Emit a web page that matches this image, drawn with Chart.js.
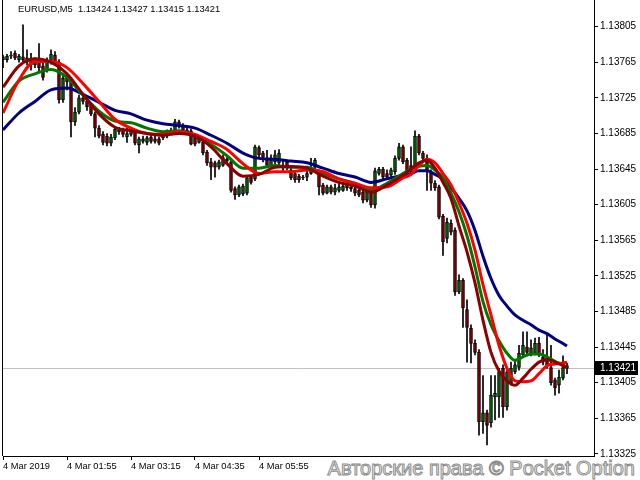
<!DOCTYPE html>
<html>
<head>
<meta charset="utf-8">
<script src="https://cdn.jsdelivr.net/npm/chart.js@4.4.1/dist/chart.umd.min.js"></script>
<style>
  html, body { margin: 0; padding: 0; background: #fff; }
  #wrap { position: relative; width: 640px; height: 480px; }
  #title { position: absolute; left: 18px; top: 4px; font: 9.3px "Liberation Sans", Arial, sans-serif; color: #000; white-space: pre; }
  #wm { position: absolute; left: 318px; top: 457px; width: 322px; height: 23px; background: #fff;
        font: 20px "Liberation Sans", Arial, sans-serif; color: #fff; -webkit-text-stroke: 1px #8c8c8c;
        line-height: 23px; white-space: pre; text-align: right; padding-right: 5px; box-sizing: border-box; }
</style>
</head>
<body>
<div id="wrap">
  <canvas id="chart" width="640" height="480"></canvas>
  <div id="title">EURUSD,M5  1.13424 1.13427 1.13415 1.13421</div>
  <div id="wm">Авторские права © Pocket Option</div>
</div>
<script>
// x axis labels (M5 bars, one label every 16 bars)
const timeLabels = ['4 Mar 2019', '4 Mar 01:55', '4 Mar 03:15', '4 Mar 04:35', '4 Mar 05:55'];
const timeTickBars = [0, 16, 32, 48, 64];
const priceTicks = [1.13805, 1.13765, 1.13725, 1.13685, 1.13645, 1.13605, 1.13565,
                    1.13525, 1.13485, 1.13445, 1.13405, 1.13365, 1.13325];
const lastPrice = 1.13421;

// candles
const opens = [
  1.13768, 1.13768, 1.13772, 1.13775, 1.13768, 1.13771, 1.13765, 1.13768, 1.13762, 1.13764,
  1.13761, 1.13756, 1.13765, 1.13773, 1.13765, 1.13723, 1.13747, 1.13745, 1.13698, 1.13709,
  1.13725, 1.13721, 1.13718, 1.13707, 1.13691, 1.13684, 1.13682, 1.13674, 1.13680, 1.13687,
  1.13689, 1.13681, 1.13684, 1.13687, 1.13672, 1.13676, 1.13675, 1.13681, 1.13679, 1.13679,
  1.13680, 1.13682, 1.13685, 1.13688, 1.13698, 1.13693, 1.13685, 1.13688, 1.13682, 1.13675,
  1.13675, 1.13664, 1.13653, 1.13652, 1.13647, 1.13649, 1.13656, 1.13653, 1.13623, 1.13616,
  1.13617, 1.13618, 1.13636, 1.13634, 1.13669, 1.13663, 1.13655, 1.13649, 1.13653, 1.13652,
  1.13649, 1.13653, 1.13644, 1.13640, 1.13637, 1.13636, 1.13636, 1.13640, 1.13647, 1.13640,
  1.13627, 1.13618, 1.13625, 1.13619, 1.13621, 1.13621, 1.13627, 1.13625, 1.13623, 1.13621,
  1.13619, 1.13610, 1.13618, 1.13605, 1.13640, 1.13645, 1.13640, 1.13638, 1.13642, 1.13657,
  1.13670, 1.13655, 1.13649, 1.13647, 1.13682, 1.13663, 1.13657, 1.13642, 1.13629, 1.13625,
  1.13592, 1.13567, 1.13584, 1.13576, 1.13507, 1.13520, 1.13487, 1.13466, 1.13449, 1.13439,
  1.13361, 1.13371, 1.13360, 1.13389, 1.13389, 1.13421, 1.13378, 1.13405, 1.13417, 1.13422,
  1.13436, 1.13445, 1.13438, 1.13438, 1.13449, 1.13434, 1.13433, 1.13422, 1.13408, 1.13402,
  1.13410, 1.13424
];
const highs = [
  1.13773, 1.13774, 1.13777, 1.13778, 1.13774, 1.13807, 1.13779, 1.13775, 1.13770, 1.13786,
  1.13765, 1.13770, 1.13779, 1.13777, 1.13768, 1.13751, 1.13750, 1.13747, 1.13714, 1.13728,
  1.13727, 1.13725, 1.13720, 1.13709, 1.13694, 1.13687, 1.13685, 1.13684, 1.13692, 1.13692,
  1.13691, 1.13691, 1.13691, 1.13689, 1.13681, 1.13682, 1.13682, 1.13683, 1.13682, 1.13681,
  1.13684, 1.13689, 1.13691, 1.13701, 1.13700, 1.13696, 1.13691, 1.13690, 1.13684, 1.13683,
  1.13678, 1.13666, 1.13657, 1.13654, 1.13655, 1.13661, 1.13660, 1.13655, 1.13625, 1.13627,
  1.13628, 1.13637, 1.13638, 1.13672, 1.13671, 1.13665, 1.13666, 1.13661, 1.13666, 1.13667,
  1.13655, 1.13655, 1.13646, 1.13643, 1.13639, 1.13638, 1.13643, 1.13657, 1.13657, 1.13644,
  1.13629, 1.13627, 1.13627, 1.13628, 1.13629, 1.13630, 1.13629, 1.13627, 1.13625, 1.13624,
  1.13621, 1.13623, 1.13620, 1.13646, 1.13647, 1.13647, 1.13644, 1.13646, 1.13660, 1.13674,
  1.13672, 1.13657, 1.13670, 1.13688, 1.13684, 1.13665, 1.13661, 1.13644, 1.13632, 1.13627,
  1.13594, 1.13590, 1.13588, 1.13579, 1.13526, 1.13522, 1.13498, 1.13470, 1.13453, 1.13442,
  1.13413, 1.13374, 1.13413, 1.13413, 1.13421, 1.13425, 1.13421, 1.13428, 1.13430, 1.13447,
  1.13462, 1.13462, 1.13453, 1.13455, 1.13456, 1.13442, 1.13458, 1.13447, 1.13410, 1.13419,
  1.13435, 1.13427
];
const lows = [
  1.13759, 1.13765, 1.13769, 1.13768, 1.13765, 1.13765, 1.13762, 1.13756, 1.13759, 1.13754,
  1.13745, 1.13754, 1.13763, 1.13762, 1.13719, 1.13720, 1.13734, 1.13681, 1.13694, 1.13707,
  1.13718, 1.13711, 1.13705, 1.13681, 1.13680, 1.13672, 1.13671, 1.13671, 1.13678, 1.13684,
  1.13681, 1.13675, 1.13682, 1.13672, 1.13663, 1.13674, 1.13672, 1.13674, 1.13674, 1.13672,
  1.13678, 1.13680, 1.13684, 1.13687, 1.13691, 1.13685, 1.13684, 1.13672, 1.13671, 1.13674,
  1.13661, 1.13649, 1.13633, 1.13636, 1.13645, 1.13648, 1.13652, 1.13619, 1.13611, 1.13614,
  1.13615, 1.13616, 1.13628, 1.13632, 1.13658, 1.13653, 1.13647, 1.13647, 1.13651, 1.13649,
  1.13642, 1.13644, 1.13633, 1.13630, 1.13630, 1.13633, 1.13632, 1.13639, 1.13645, 1.13616,
  1.13616, 1.13617, 1.13617, 1.13616, 1.13619, 1.13620, 1.13621, 1.13620, 1.13615, 1.13614,
  1.13607, 1.13608, 1.13602, 1.13601, 1.13638, 1.13634, 1.13634, 1.13636, 1.13639, 1.13655,
  1.13651, 1.13639, 1.13638, 1.13645, 1.13661, 1.13655, 1.13621, 1.13621, 1.13621, 1.13589,
  1.13548, 1.13562, 1.13571, 1.13503, 1.13505, 1.13467, 1.13428, 1.13427, 1.13436, 1.13346,
  1.13348, 1.13335, 1.13355, 1.13363, 1.13366, 1.13366, 1.13374, 1.13402, 1.13415, 1.13419,
  1.13434, 1.13436, 1.13435, 1.13436, 1.13434, 1.13425, 1.13421, 1.13402, 1.13391, 1.13393,
  1.13408, 1.13415
];
const closes = [
  1.13771, 1.13772, 1.13773, 1.13770, 1.13772, 1.13768, 1.13770, 1.13762, 1.13765, 1.13759,
  1.13748, 1.13765, 1.13774, 1.13765, 1.13723, 1.13747, 1.13743, 1.13698, 1.13709, 1.13725,
  1.13721, 1.13715, 1.13707, 1.13691, 1.13682, 1.13675, 1.13674, 1.13681, 1.13690, 1.13689,
  1.13684, 1.13685, 1.13688, 1.13674, 1.13679, 1.13679, 1.13680, 1.13676, 1.13676, 1.13674,
  1.13682, 1.13685, 1.13688, 1.13698, 1.13693, 1.13689, 1.13689, 1.13673, 1.13673, 1.13681,
  1.13663, 1.13652, 1.13647, 1.13647, 1.13653, 1.13658, 1.13654, 1.13621, 1.13616, 1.13625,
  1.13626, 1.13635, 1.13630, 1.13670, 1.13661, 1.13658, 1.13649, 1.13655, 1.13661, 1.13663,
  1.13646, 1.13646, 1.13635, 1.13633, 1.13633, 1.13635, 1.13640, 1.13646, 1.13655, 1.13625,
  1.13618, 1.13625, 1.13619, 1.13624, 1.13625, 1.13626, 1.13624, 1.13623, 1.13618, 1.13616,
  1.13610, 1.13619, 1.13605, 1.13643, 1.13645, 1.13636, 1.13636, 1.13644, 1.13657, 1.13670,
  1.13653, 1.13642, 1.13642, 1.13682, 1.13663, 1.13657, 1.13644, 1.13629, 1.13624, 1.13591,
  1.13563, 1.13585, 1.13574, 1.13507, 1.13520, 1.13489, 1.13467, 1.13449, 1.13439, 1.13361,
  1.13371, 1.13357, 1.13391, 1.13393, 1.13417, 1.13378, 1.13417, 1.13421, 1.13425, 1.13438,
  1.13447, 1.13439, 1.13444, 1.13449, 1.13436, 1.13428, 1.13424, 1.13405, 1.13399, 1.13411,
  1.13422, 1.13421
];

// moving averages, read at these bars
const maBars = [0, 4, 8, 12, 16, 20, 24, 28, 32, 36, 40, 44, 48, 52, 56, 60, 64, 68, 72, 76,
                80, 84, 88, 92, 96, 100, 102, 104, 106, 108, 110, 112, 114, 116, 118, 120, 122,
                124, 126, 128, 130, 132, 134, 136, 138, 140, 141];
const maMaroon = [1.13737, 1.13761, 1.13769, 1.13765, 1.13752, 1.13729, 1.13707, 1.13692, 1.13688, 1.13685,
                  1.13683, 1.13685, 1.13682, 1.13670, 1.13651, 1.13637, 1.13639, 1.13647, 1.13648, 1.13646,
                  1.13637, 1.13630, 1.13626, 1.13619, 1.13627, 1.13638, 1.13645, 1.13652, 1.13655, 1.13646,
                  1.13630, 1.13612, 1.13581, 1.13552, 1.13517, 1.13475, 1.13439, 1.13418, 1.13407, 1.13402,
                  1.13410, 1.13420, 1.13428, 1.13431, 1.13428, 1.13424, 1.13422];
const maGreen = [1.13720, 1.13744, 1.13752, 1.13757, 1.13748, 1.13728, 1.13710, 1.13699, 1.13697, 1.13691,
                 1.13687, 1.13688, 1.13683, 1.13673, 1.13660, 1.13646, 1.13646, 1.13649, 1.13647, 1.13647,
                 1.13640, 1.13634, 1.13629, 1.13621, 1.13629, 1.13640, 1.13645, 1.13648, 1.13649, 1.13644,
                 1.13635, 1.13618, 1.13597, 1.13570, 1.13535, 1.13496, 1.13470, 1.13452, 1.13438, 1.13430,
                 1.13434, 1.13437, 1.13437, 1.13434, 1.13429, 1.13425, 1.13422];
const maRed = [1.13708, 1.13745, 1.13766, 1.13766, 1.13759, 1.13741, 1.13721, 1.13701, 1.13691, 1.13685,
               1.13684, 1.13687, 1.13684, 1.13676, 1.13667, 1.13651, 1.13640, 1.13642, 1.13642, 1.13644,
               1.13642, 1.13634, 1.13629, 1.13624, 1.13625, 1.13635, 1.13639, 1.13649, 1.13656, 1.13652,
               1.13640, 1.13627, 1.13607, 1.13584, 1.13554, 1.13515, 1.13481, 1.13447, 1.13421, 1.13407,
               1.13406, 1.13407, 1.13415, 1.13424, 1.13426, 1.13427, 1.13428];
const maNavy = [1.13689, 1.13708, 1.13721, 1.13734, 1.13736, 1.13729, 1.13720, 1.13711, 1.13707, 1.13700,
                1.13696, 1.13694, 1.13691, 1.13683, 1.13674, 1.13663, 1.13657, 1.13656, 1.13654, 1.13652,
                1.13646, 1.13640, 1.13636, 1.13630, 1.13634, 1.13638, 1.13640, 1.13643, 1.13643, 1.13639,
                1.13634, 1.13624, 1.13612, 1.13598, 1.13576, 1.13547, 1.13522, 1.13503, 1.13491, 1.13481,
                1.13475, 1.13470, 1.13464, 1.13460, 1.13454, 1.13449, 1.13446];

const bullColor = '#006400';
const bearColor = '#800000';

const wickData = highs.map((h, i) => ({ x: i, y: [lows[i], h] }));
const bodyData = opens.map((o, i) => ({ x: i, y: [o, closes[i]] }));
const bodyColors = opens.map((o, i) => closes[i] >= o ? bullColor : bearColor);

function maLine(values, color) {
  return {
    type: 'line',
    data: values.map((v, k) => ({ x: maBars[k], y: v })),
    borderColor: color,
    borderWidth: 3,
    pointRadius: 0,
    cubicInterpolationMode: 'monotone',
    order: 1
  };
}

const frame = {
  id: 'frame',
  beforeDatasetsDraw(chart) {
    const { ctx, chartArea: a, scales } = chart;
    const y = Math.round(scales.y.getPixelForValue(lastPrice)) + 0.5;
    ctx.save();
    ctx.strokeStyle = '#c0c0c0';
    ctx.lineWidth = 1;
    ctx.beginPath();
    ctx.moveTo(a.left, y);
    ctx.lineTo(a.right, y);
    ctx.stroke();
    ctx.restore();
  },
  afterDraw(chart) {
    const { ctx, chartArea: a, scales } = chart;
    ctx.save();
    ctx.strokeStyle = '#000';
    ctx.lineWidth = 1;
    ctx.beginPath();
    ctx.moveTo(a.left - 0.5, a.top);
    ctx.lineTo(a.left - 0.5, a.bottom);
    ctx.stroke();
    const y = Math.round(scales.y.getPixelForValue(lastPrice));
    ctx.fillStyle = '#000';
    ctx.fillRect(a.right + 1, y - 7, 43, 14);
    ctx.fillStyle = '#fff';
    ctx.font = '10px "Liberation Sans", Arial, sans-serif';
    ctx.textBaseline = 'middle';
    ctx.fillText(lastPrice.toFixed(5), a.right + 6, y + 0.5);
    ctx.restore();
  }
};

const ctx = document.getElementById('chart').getContext('2d');
Chart.defaults.font.family = '"Liberation Sans", Arial, sans-serif';
Chart.defaults.font.size = 10;
Chart.defaults.color = '#000';

new Chart(ctx, {
  type: 'bar',
  data: {
    datasets: [
      maLine(maMaroon, '#8b0000'),
      maLine(maRed, '#ff0000'),
      maLine(maGreen, '#007800'),
      maLine(maNavy, '#000080'),
      {
        data: bodyData,
        backgroundColor: bodyColors,
        borderColor: '#000',
        borderWidth: 1,
        borderSkipped: false,
        barThickness: 3,
        grouped: false,
        order: 5
      },
      {
        data: wickData,
        backgroundColor: '#000',
        borderWidth: 0,
        barThickness: 1,
        grouped: false,
        order: 6
      }
    ]
  },
  options: {
    responsive: false,
    devicePixelRatio: 1,
    animation: false,
    layout: { padding: { left: 3, top: 0, right: 0, bottom: 0 } },
    plugins: { legend: { display: false }, tooltip: { enabled: false } },
    scales: {
      x: {
        type: 'linear',
        min: 0,
        max: 147.75,
        offset: false,
        grid: { drawOnChartArea: false, drawTicks: true, tickLength: 4, color: '#000', offset: false },
        border: { display: true, color: '#000' },
        afterBuildTicks: s => { s.ticks = timeTickBars.map(v => ({ value: v })); },
        afterFit: s => { s.height = 24; s.paddingLeft = 0; s.paddingRight = 0; },
        ticks: {
          autoSkip: false, maxRotation: 0, align: 'start', padding: 1,
          font: { size: 9.3 },
          callback: (v, i) => timeLabels[i]
        }
      },
      y: {
        type: 'linear',
        position: 'right',
        min: 1.133225,
        max: 1.13835,
        beginAtZero: false,
        grid: { drawOnChartArea: false, drawTicks: true, tickLength: 4, color: '#000' },
        border: { display: true, color: '#000' },
        afterBuildTicks: s => { s.ticks = priceTicks.map(v => ({ value: v })); },
        afterFit: s => { s.width = 46; s.paddingTop = 0; s.paddingBottom = 0; },
        ticks: { padding: 2, callback: v => v.toFixed(5) }
      }
    }
  },
  plugins: [frame]
});
</script>
</body>
</html>
